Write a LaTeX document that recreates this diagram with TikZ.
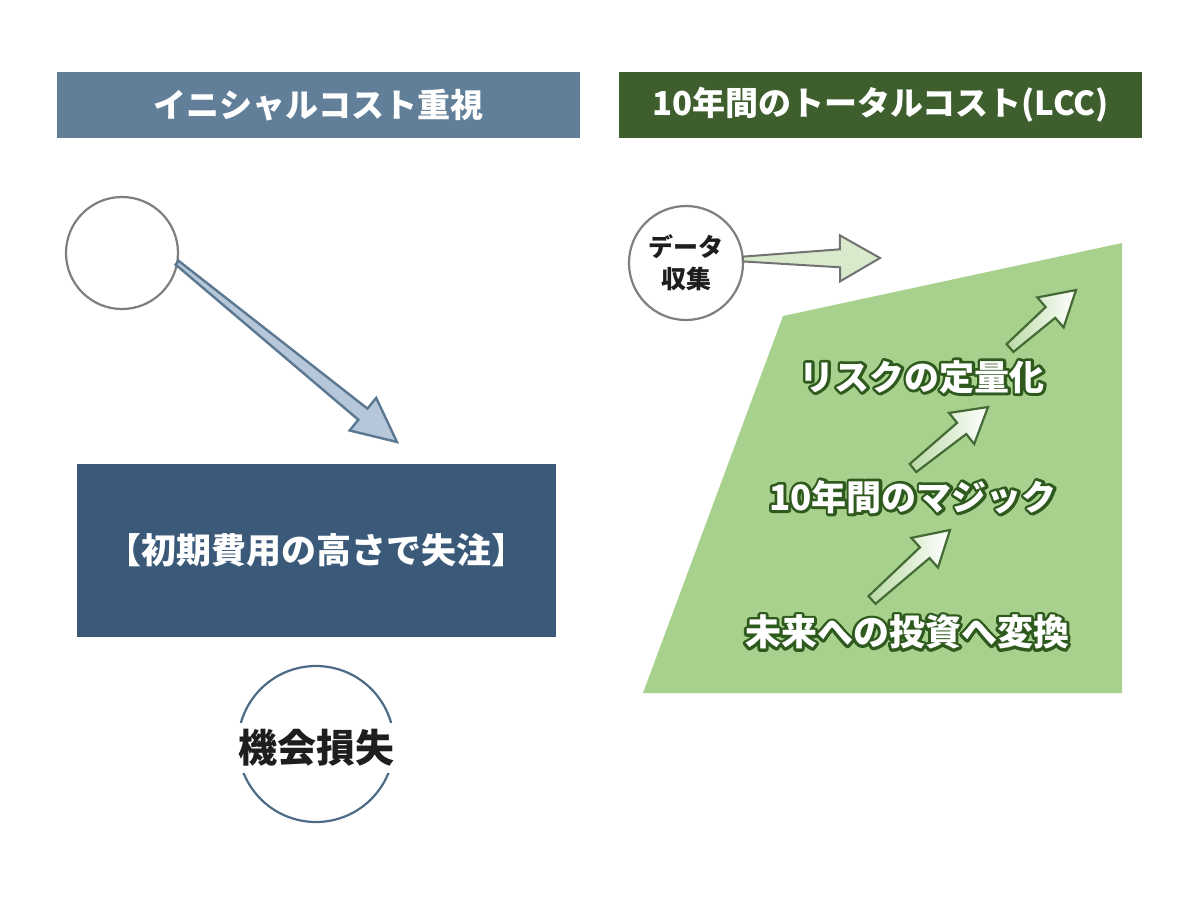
\documentclass[tikz,border=0pt]{standalone}
\usepackage{fontspec}
\setmainfont{Noto Sans CJK JP}
\usetikzlibrary{calc}
\definecolor{hdrblue}{HTML}{617F98}
\definecolor{hdrgreen}{HTML}{3E5F2D}
\definecolor{boxblue}{HTML}{3B5A7A}
\definecolor{lccgreen}{HTML}{A9D18E}
\definecolor{ringgray}{HTML}{7F7F7F}
\definecolor{ringblue}{HTML}{4D6B86}
\definecolor{arrblue}{HTML}{B5C7D8}
\definecolor{arrbluedk}{HTML}{5B7893}
\definecolor{arrgreen}{HTML}{D8EACB}
\definecolor{outgreen}{HTML}{2F5A1E}
\definecolor{txtdark}{HTML}{1E1E1E}
\newcommand\fatarrow[7]{%
  \begin{scope}
  \coordinate (fa-b) at ($(#2)!#6!(#1)$);
  \draw[#7] ($(#1)!#3!90:(#2)$) -- ($(fa-b)!#4!90:(#2)$) -- ($(fa-b)!#5!90:(#2)$)
    -- (#2) -- ($(fa-b)!#5!-90:(#2)$) -- ($(fa-b)!#4!-90:(#2)$) -- ($(#1)!#3!-90:(#2)$) -- cycle;
  \end{scope}}
\newcommand\outl[1]{\leavevmode\rlap{\special{pdf:literal direct 1 Tr 2.8 w 1 j}\textcolor{outgreen}{#1}\special{pdf:literal direct 0 Tr 0.4 w 0 j}}#1}
\tikzset{
  hdr/.style={inner sep=0pt, minimum width=261.5pt, minimum height=33pt, text=white,
    font=\bfseries\fontsize{16.5}{20}\selectfont},
  ring/.style={circle, draw, line width=1.1pt, inner sep=0pt, outer sep=0pt},
  lcctext/.style={inner sep=0pt, text=white, font=\bfseries\fontsize{17.5}{21}\selectfont},
  greenarrow/.style={draw=outgreen!90, line width=1.1pt, line join=miter,
    left color=lccgreen!80!white, right color=white},
}
\begin{document}
\begin{tikzpicture}[x=0.5pt,y=-0.5pt]
\useasboundingbox (0,0) rectangle (1200,896);
\fill[white] (0,0) rectangle (1200,896);

% headers
\node[hdr, fill=hdrblue] (h1) at (318.5,105) {イニシャルコスト重視};
\node[hdr, fill=hdrgreen] (h2) at (880.5,105) {10年間のトータルコスト(LCC)};

% left side
\node[ring, draw=ringgray, minimum size=56pt] (c1) at (122,253) {};
\coordinate (a1t) at (397,442);
\fatarrow{c1.-10}{a1t}{1.2pt}{3.6pt}{10.5pt}{22pt}{fill=arrblue, draw=arrbluedk, line width=1.2pt, line join=miter}

\node[fill=boxblue, minimum width=239.5pt, minimum height=86.5pt, inner sep=0pt,
  text=white, font=\bfseries\fontsize{17.5}{21}\selectfont] (box) at (316.5,550.5) {【初期費用の高さで失注】};

\node[ring, draw=ringblue, minimum size=78pt] (c3) at (316,744) {};
\node[fill=white, inner sep=3pt, text=txtdark, font=\bfseries\fontsize{19.5}{23}\selectfont] (loss) at (316,748) {機会損失};

% right side
\fill[lccgreen] (783,316) -- (1122,243) -- (1122,693) -- (643,693) -- cycle;

\node[ring, draw=ringgray, minimum size=57pt, align=center, text=txtdark,
  font=\bfseries\fontsize{12.5}{16}\selectfont] (c2) at (686,263) {データ\\収集};
\coordinate (a2t) at (880,258);
\fatarrow{c2.4}{a2t}{1.2pt}{4.5pt}{11.5pt}{20pt}{fill=arrgreen, draw=ringgray!90!black, line width=1pt, line join=miter}

\coordinate (g1s) at (872,600); \coordinate (g1t) at (950,530);
\coordinate (g2s) at (913,468); \coordinate (g2t) at (988,407);
\coordinate (g3s) at (1010,348); \coordinate (g3t) at (1076,290);
\fatarrow{g1s}{g1t}{2.6pt}{3.6pt}{10pt}{17pt}{greenarrow}
\fatarrow{g2s}{g2t}{2.6pt}{3.6pt}{10pt}{17pt}{greenarrow}
\fatarrow{g3s}{g3t}{2.6pt}{3.6pt}{10pt}{17pt}{greenarrow}

\node[lcctext] (t1) at (922,377) {\outl{リスクの定量化}};
\node[lcctext] (t2) at (913,497) {\outl{10年間のマジック}};
\node[lcctext, font=\bfseries\fontsize{18}{22}\selectfont] (t3) at (907,632) {\outl{未来への投資へ変換}};
\end{tikzpicture}
\end{document}
